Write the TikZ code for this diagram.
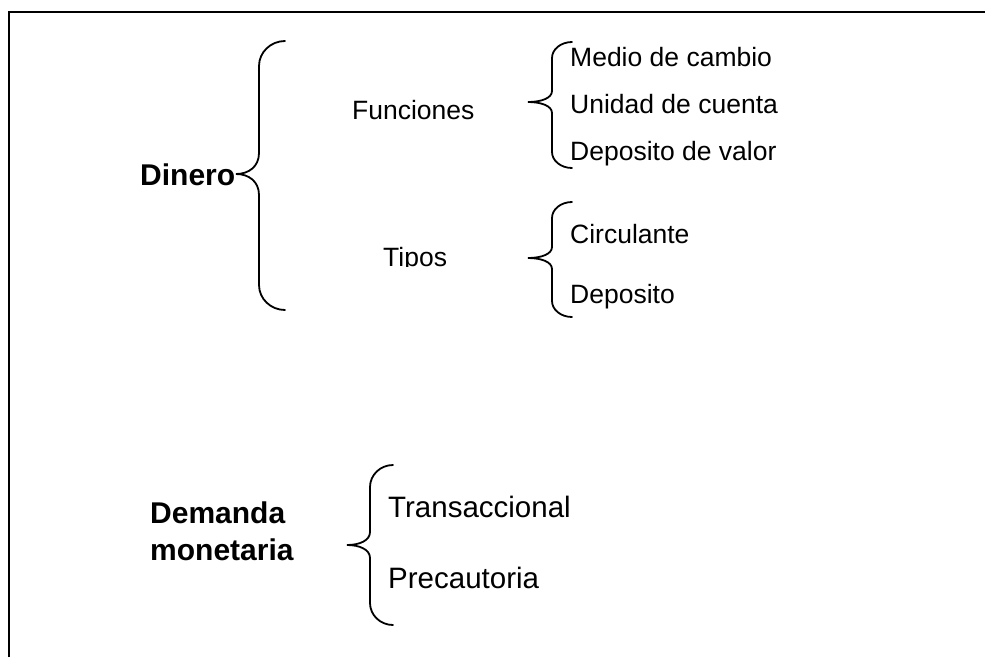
\documentclass[tikz,border=0pt]{standalone}
\usepackage{fontspec}
\setmainfont{Liberation Sans}
\usetikzlibrary{positioning}
\tikzset{
	texto/.style={inner sep=0pt, anchor=base west, font=\fontsize{26.5}{30}\selectfont}, % small labels
	grande/.style={texto, font=\fontsize{29.5}{33}\selectfont}, % Transaccional, Precautoria
	titulo/.style={texto, font=\fontsize{30}{34}\selectfont\bfseries}, % Dinero, Demanda
	llave/.style={line width=1.8pt, line cap=round}, % the curly braces
}
% brace: right end x, vertical x, tip x, top y, tip y, bottom y, end radius, tip radius
\newcommand{\llave}[8]{%
	\draw[llave] (#1,#4) .. controls ({#2+0.45*(#1-#2)},#4) and (#2,{#4+0.45*#7}) .. (#2,#4+#7)
		-- (#2,#5-#8) .. controls (#2,{#5-0.35*#8}) and ({#2-0.45*(#2-#3)},#5) .. (#3,#5)
		.. controls ({#2-0.45*(#2-#3)},#5) and (#2,{#5+0.35*#8}) .. (#2,#5+#8)
		-- (#2,#6-#7) .. controls (#2,{#6-0.45*#7}) and ({#2+0.45*(#1-#2)},#6) .. (#1,#6);}

\begin{document}
\begin{tikzpicture}[x=1pt, y=-1pt]
	\useasboundingbox (0,0) rectangle (985,657);
	% cropped frame, only top and left sides show
	\draw[line width=2pt] (9,657) -- (9,11.5) -- (985,11.5);

	%% Dinero
	\node[titulo] (Dinero) at (140,185) {Dinero};
	\llave{285}{259}{236}{41}{174}{310}{25}{21}
	\node[texto] (Funciones) at (352,119) {Funciones};
	\begin{scope}
		\clip (370,230) rectangle (470,266.5); % the label is cut at its baseline
		\node[texto] (Tipos) at (383,266) {Tipos};
	\end{scope}

	%% Funciones
	\llave{572}{552}{528}{42}{102}{168}{16}{11}
	\node[texto] (Medio) at (570,66) {Medio de cambio};
	\node[texto] (Unidad) at (570,113) {Unidad de cuenta};
	\node[texto] (Valor) at (570,160) {Deposito de valor};

	%% Tipos
	\llave{572}{552}{528}{202}{258}{317}{16}{11}
	\node[texto] (Circulante) at (570,243) {Circulante};
	\node[texto] (Deposito) at (570,303) {Deposito};

	%% Demanda monetaria
	\node[titulo] (Demanda) at (150,523) {Demanda};
	\node[titulo] (Monetaria) at (150,560) {monetaria};
	\llave{393}{370}{347}{465}{545}{625}{22}{13}
	\node[grande] (Transaccional) at (388,517) {Transaccional};
	\node[grande] (Precautoria) at (388,588) {Precautoria};
\end{tikzpicture}
\end{document}
